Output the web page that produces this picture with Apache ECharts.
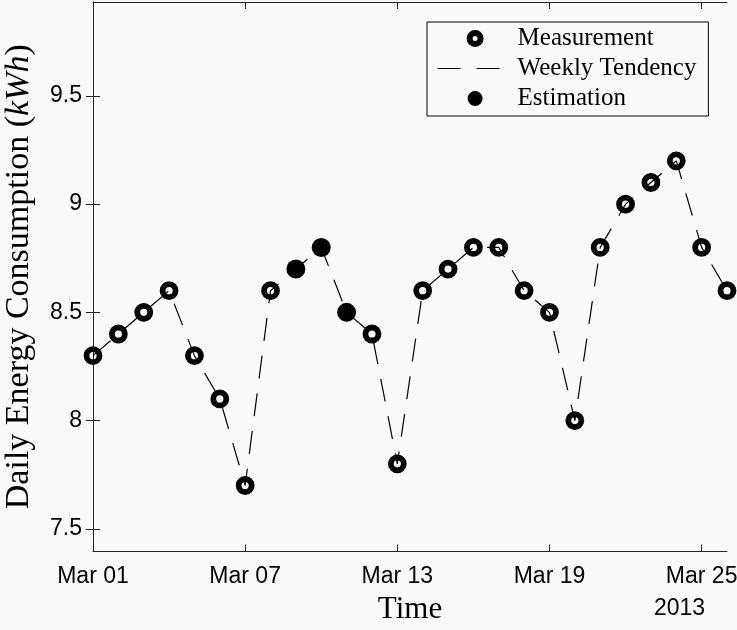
<!DOCTYPE html>
<html>
<head>
<meta charset="utf-8">
<script src="https://cdn.jsdelivr.net/npm/echarts@6/dist/echarts.min.js"></script>
<style>
  html, body { margin: 0; padding: 0; background: #fafafa; }
  #chart { width: 737px; height: 630px; }
</style>
</head>
<body>
<div id="chart"></div>
<script>
// Daily energy consumption, March 2013
const marchDays = [1, 2, 3, 4, 5, 6, 7, 8, 9, 10, 11, 12, 13, 14, 15, 16, 17, 18, 19, 20, 21, 22, 23, 24, 25, 26];
const consumption = [8.3, 8.4, 8.5, 8.6, 8.3, 8.1, 7.7, 8.6, 8.7, 8.8, 8.5, 8.4, 7.8, 8.6, 8.7, 8.8, 8.8, 8.6, 8.5, 8.0, 8.8, 9.0, 9.1, 9.2, 8.8, 8.6];
const estimatedDays = [9, 10, 11];

const xTickDays = [1, 7, 13, 19, 25];
const xTickLabels = ['Mar 01', 'Mar 07', 'Mar 13', 'Mar 19', 'Mar 25'];
const yTicks = [7.5, 8, 8.5, 9, 9.5];
const yTickLabels = ['7.5', '8', '8.5', '9', '9.5'];
const yearLabel = '2013';

// x is measured in days since Mar 01
const toX = d => d - 1;
const allPoints = marchDays.map((d, i) => [toX(d), consumption[i]]);
const measured = marchDays.map((d, i) => [d, consumption[i]])
  .filter(p => estimatedDays.indexOf(p[0]) < 0)
  .map(p => [toX(p[0]), p[1]]);
const estimated = marchDays.map((d, i) => [d, consumption[i]])
  .filter(p => estimatedDays.indexOf(p[0]) >= 0)
  .map(p => [toX(p[0]), p[1]]);

const ink = '#000';
const axisInk = '#262626';
const sans = 'Liberation Sans';
const serif = 'Liberation Serif';
const xTickVals = xTickDays.map(toX);

const frameAxis = {
  axisLine: { show: true, lineStyle: { color: axisInk, width: 1 } },
  axisTick: { show: true, inside: true, length: 7, lineStyle: { color: axisInk, width: 1 } },
  splitLine: { show: false }
};

const chart = echarts.init(document.getElementById('chart'), null, { renderer: 'canvas' });
chart.setOption({
  backgroundColor: '#fafafa',
  animation: false,
  grid: { left: 93, right: 10, top: 2, bottom: 78.5, containLabel: false, outerBoundsMode: 'none' },
  xAxis: [
    Object.assign({}, frameAxis, {
      type: 'value', position: 'bottom', min: 0, max: 25,
      axisTick: Object.assign({}, frameAxis.axisTick, { customValues: xTickVals }),
      axisLabel: {
        customValues: xTickVals, margin: 14, color: ink, fontFamily: sans, fontSize: 23,
        formatter: v => xTickLabels[xTickVals.indexOf(v)] || ''
      },
      name: 'Time', nameLocation: 'middle', nameGap: 43,
      nameTextStyle: { fontFamily: serif, fontSize: 31, color: ink }
    }),
    Object.assign({}, frameAxis, {
      type: 'value', position: 'top', min: 0, max: 25,
      axisTick: Object.assign({}, frameAxis.axisTick, { customValues: xTickVals }),
      axisLabel: { show: false }
    })
  ],
  yAxis: [
    Object.assign({}, frameAxis, {
      type: 'value', position: 'left', min: 7.395, max: 9.934,
      axisTick: Object.assign({}, frameAxis.axisTick, { customValues: yTicks }),
      axisLabel: {
        customValues: yTicks, margin: 11, color: ink, fontFamily: sans, fontSize: 23,
        formatter: v => yTickLabels[yTicks.indexOf(v)] || ''
      },
      name: '{n|Daily Energy Consumption (}{i|kWh}{n|)}',
      nameLocation: 'middle', nameGap: 57, nameRotate: 90,
      nameTextStyle: {
        rich: {
          n: { fontFamily: serif, fontSize: 34, color: ink },
          i: { fontFamily: serif, fontSize: 34, fontStyle: 'italic', color: ink }
        }
      }
    }),
    Object.assign({}, frameAxis, {
      type: 'value', position: 'right', min: 7.395, max: 9.934,
      axisTick: Object.assign({}, frameAxis.axisTick, { customValues: yTicks }),
      axisLabel: { show: false }
    })
  ],
  legend: {
    orient: 'vertical', left: 427, top: 22,
    padding: [4, 12, 5, 10], itemGap: 5,
    itemWidth: 75, itemHeight: 11,
    backgroundColor: '#fafafa', borderColor: ink, borderWidth: 1, borderRadius: 0,
    textStyle: { fontFamily: serif, fontSize: 25, color: ink },
    data: [
      { name: 'Measurement', itemStyle: { color: 'transparent', borderColor: ink, borderWidth: 6 } },
      {
        name: 'Weekly Tendency',
        itemStyle: { color: 'transparent', borderColor: 'transparent', borderWidth: 0, opacity: 0 },
        lineStyle: { type: [23, 16], width: 1.2, color: ink }
      },
      { name: 'Estimation', itemStyle: { color: ink, borderColor: ink, borderWidth: 4 } }
    ]
  },
  series: [
    {
      name: 'Weekly Tendency', type: 'line', data: allPoints,
      symbol: 'none', showSymbol: false, clip: false, z: 3,
      itemStyle: { color: ink },
      lineStyle: { color: ink, width: 1.2, type: [23, 15] }
    },
    {
      name: 'Measurement', type: 'scatter', data: measured, clip: false, z: 4,
      symbol: 'circle', symbolSize: 13,
      itemStyle: { color: 'transparent', borderColor: ink, borderWidth: 5.8, opacity: 1 }
    },
    {
      name: 'Estimation', type: 'scatter', data: estimated, clip: false, z: 4,
      symbol: 'circle', symbolSize: 19,
      itemStyle: { color: ink, borderWidth: 0, opacity: 1 }
    }
  ],
  graphic: [
    {
      type: 'text', left: 654, top: 597,
      style: { text: yearLabel, fontFamily: sans, fontSize: 23, fill: ink }
    }
  ]
});
</script>
</body>
</html>
